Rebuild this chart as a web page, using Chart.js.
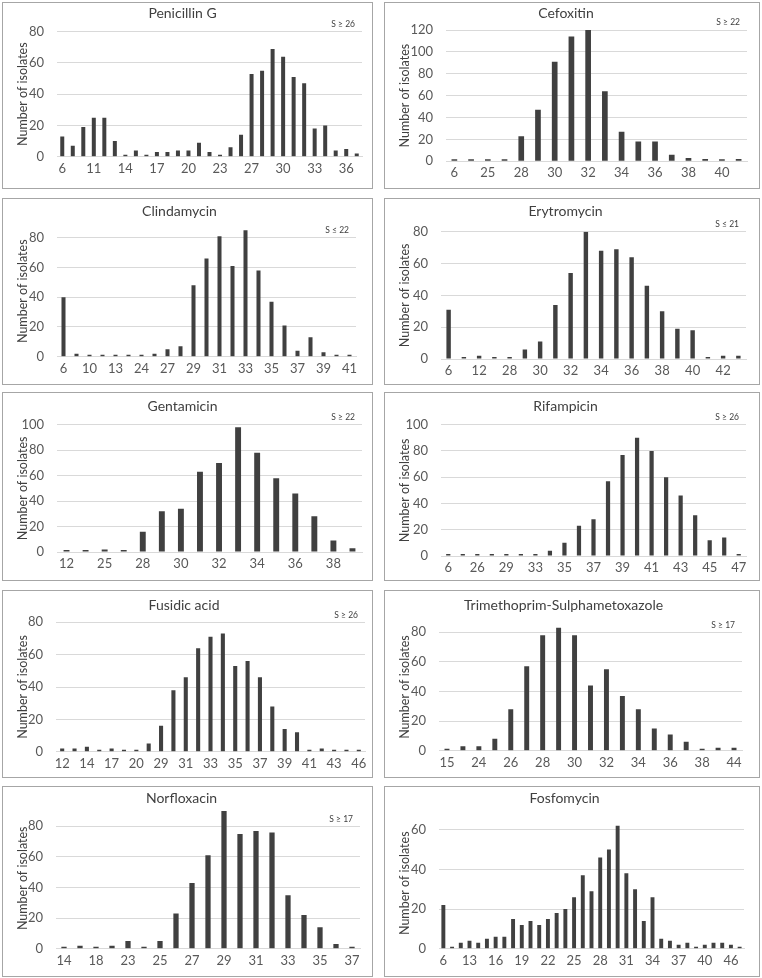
<!DOCTYPE html>
<html>
<head>
<meta charset="utf-8">
<script src="https://cdn.jsdelivr.net/npm/chart.js@4.4.1/dist/chart.umd.min.js"></script>
<style>
  body { margin: 0; background: #fff; width: 762px; height: 978px; position: relative; font-family: Lato, sans-serif; }
  .panel { position: absolute; border: 1px solid #a6a6a6; box-sizing: border-box; background: #fff; }
  .panel canvas { display: block; }
</style>
</head>
<body>
<script>
// zone diameters (mm) and isolate counts
const penicillinLabels = ['6','9','10','11','12','13','14','15','16','17','18','19','20','21','22','23','25','26','27','28','29','30','31','32','33','34','35','36','37'];
const penicillinCounts = [13, 7, 19, 25, 25, 10, 1, 4, 1, 3, 3, 4, 4, 9, 3, 1, 6, 14, 53, 55, 69, 64, 51, 47, 18, 20, 4, 5, 2];

const cefoxitinLabels = ['6','22','25','27','28','29','30','31','32','33','34','35','36','37','38','39','40','41'];
const cefoxitinCounts = [1, 1, 1, 1, 23, 47, 91, 114, 120, 64, 27, 18, 18, 6, 3, 2, 1, 2];

const clindamycinLabels = ['6','9','10','12','13','20','24','26','27','28','29','30','31','32','33','34','35','36','37','38','39','40','41'];
const clindamycinCounts = [40, 2, 1, 1, 1, 1, 1, 2, 5, 7, 48, 66, 81, 61, 85, 58, 37, 21, 4, 13, 3, 1, 1];

const erytromycinLabels = ['6','10','12','20','28','29','30','31','32','33','34','35','36','37','38','39','40','41','42','43'];
const erytromycinCounts = [31, 1, 2, 1, 1, 6, 11, 34, 54, 80, 68, 69, 64, 46, 30, 19, 18, 1, 2, 2];

const gentamicinLabels = ['12','22','25','27','28','29','30','31','32','33','34','35','36','37','38','39'];
const gentamicinCounts = [1, 1, 2, 1, 16, 32, 34, 63, 70, 98, 78, 58, 46, 28, 9, 3];

const rifampicinLabels = ['6','22','26','28','29','31','33','34','35','36','37','38','39','40','41','42','43','44','45','46','47'];
const rifampicinCounts = [1, 1, 1, 1, 1, 1, 1, 4, 10, 23, 28, 57, 77, 90, 80, 60, 46, 31, 12, 14, 1];

const fusidicLabels = ['12','13','14','15','17','18','20','26','29','30','31','32','33','34','35','36','37','38','39','40','41','42','43','44','46'];
const fusidicCounts = [2, 2, 3, 1, 2, 1, 1, 5, 16, 38, 46, 64, 71, 73, 53, 56, 46, 28, 14, 12, 1, 2, 1, 1, 1];

const sxtLabels = ['15','20','24','25','26','27','28','29','30','31','32','33','34','35','36','37','38','40','44'];
const sxtCounts = [1, 3, 3, 8, 28, 57, 78, 83, 78, 44, 55, 37, 28, 15, 11, 6, 1, 2, 2];

const norfloxacinLabels = ['14','16','18','21','23','24','25','26','27','28','29','30','31','32','33','34','35','36','37'];
const norfloxacinCounts = [1, 2, 1, 2, 5, 1, 5, 23, 43, 61, 90, 75, 77, 76, 35, 22, 14, 3, 1];

const fosfomycinLabels = ['6','10','12','13','14','15','16','17','18','19','20','21','22','23','24','25','26','27','28','29','30','31','32','33','34','35','36','37','38','39','40','42','44','46','47'];
const fosfomycinCounts = [22, 1, 3, 4, 3, 5, 6, 6, 15, 12, 14, 12, 15, 18, 20, 26, 37, 29, 46, 50, 62, 38, 30, 14, 26, 5, 4, 2, 3, 1, 2, 3, 3, 2, 1];

const titles = ['Penicillin G', 'Cefoxitin', 'Clindamycin', 'Erytromycin', 'Gentamicin',
                'Rifampicin', 'Fusidic acid', 'Trimethoprim-Sulphametoxazole', 'Norfloxacin', 'Fosfomycin'];
const breakpoints = ['S ≥ 26', 'S ≥ 22', 'S ≤ 22', 'S ≤ 21', 'S ≥ 22', 'S ≥ 26', 'S ≥ 26', 'S ≥ 17', 'S ≥ 17', ''];
const yMax = [80, 120, 88, 80, 100, 100, 80, 86, 92, 66];
const labelEvery = [3, 2, 2, 2, 2, 2, 2, 2, 2, 3];

const allLabels = [penicillinLabels, cefoxitinLabels, clindamycinLabels, erytromycinLabels, gentamicinLabels,
                   rifampicinLabels, fusidicLabels, sxtLabels, norfloxacinLabels, fosfomycinLabels];
const allCounts = [penicillinCounts, cefoxitinCounts, clindamycinCounts, erytromycinCounts, gentamicinCounts,
                   rifampicinCounts, fusidicCounts, sxtCounts, norfloxacinCounts, fosfomycinCounts];

// ---- layout (page pixels) ----
// panel boxes: [left, width] per column and [top, height] per row
const colX = [[2, 371], [384, 376]];
const rowY = [[2, 187], [198, 187], [392, 189], [590, 188], [786, 191]];
const titleCenterY = [13, 211.5, 406, 605, 798.5];
// plot area per panel: [left, right, y of top labelled gridline, y of zero line]
const plotBox = [
    [57, 362, 31.7, 156.7], [446, 747, 30, 161.3],
    [57, 356, 237.7, 356.7], [441, 746, 231.7, 359],
    [57, 362, 424.7, 552], [441, 746, 424.7, 556],
    [56, 365, 622.3, 751.7], [439, 742, 632.3, 750.7],
    [56, 360, 826.3, 948.7], [439, 744, 829.7, 948.7]
];
const barWidthShare = [0.38, 0.34, 0.31, 0.29, 0.31, 0.29, 0.33, 0.31, 0.33, 0.45];

const textGrey = '#595959';
const barColor = '#404040';
const gridColor = '#d9d9d9';
const titleSize = 14;
const xAxisHeight = 24;

// small "S >= xx" note just above the top labelled gridline
const notePlugin = {
    id: 'note',
    afterDraw(chart, args, opts) {
        if (!opts.text) return;
        const { ctx, chartArea, scales: { y } } = chart;
        const top = y.ticks[y.ticks.length - 1].value;
        ctx.save();
        ctx.font = '8.5px Lato';
        ctx.fillStyle = '#404040';
        ctx.textAlign = 'right';
        ctx.textBaseline = 'bottom';
        ctx.fillText(opts.text, chartArea.right - 7, y.getPixelForValue(top) - 3);
        ctx.restore();
    }
};

function makePanel(i) {
    const [left, width] = colX[i % 2];
    const row = Math.floor(i / 2);
    const [top, height] = rowY[row];
    const box = document.createElement('div');
    box.className = 'panel';
    Object.assign(box.style, { left: left + 'px', top: top + 'px', width: width + 'px', height: height + 'px' });
    const cw = width - 2, ch = height - 2;
    const cx = left + 1, cy = top + 1;
    const cv = document.createElement('canvas');
    cv.width = cw;
    cv.height = ch;
    cv.style.width = cw + 'px';
    cv.style.height = ch + 'px';
    box.appendChild(cv);
    document.body.appendChild(box);

    const every = labelEvery[i];
    const max = yMax[i];
    const gridTop = Math.floor(max / 20) * 20;
    const [pl, pr, gy, zy] = plotBox[i];
    const plotTop = zy - (zy - gy) * max / gridTop;
    const lh = titleSize * 1.2;
    const tTop = titleCenterY[row] - cy - lh / 2;
    const tBottom = Math.max(0, plotTop - cy - tTop - lh);
    const padBottom = Math.max(0, cy + ch - xAxisHeight - zy);
    const padRight = cx + cw - pr;
    const yWidth = pl - cx;

    new Chart(cv.getContext('2d'), {
        type: 'bar',
        data: {
            labels: allLabels[i],
            datasets: [{
                data: allCounts[i],
                backgroundColor: barColor,
                borderWidth: 0,
                minBarLength: 2,
                barPercentage: barWidthShare[i],
                categoryPercentage: 1
            }]
        },
        options: {
            responsive: false,
            animation: false,
            layout: { padding: { left: 0, right: padRight, top: 0, bottom: padBottom } },
            plugins: {
                legend: { display: false },
                tooltip: { enabled: false },
                note: { text: breakpoints[i] },
                title: {
                    display: true,
                    text: titles[i],
                    color: '#404040',
                    font: { family: 'Lato', size: titleSize, weight: 'normal' },
                    padding: { top: tTop, bottom: tBottom }
                }
            },
            scales: {
                x: {
                    afterFit(scale) { scale.height = xAxisHeight; },
                    grid: { display: false, drawTicks: false },
                    border: { color: gridColor },
                    ticks: {
                        autoSkip: false,
                        maxRotation: 0,
                        color: textGrey,
                        font: { family: 'Lato', size: 13 },
                        padding: 4,
                        callback(v, idx) { return idx % every === 0 ? this.getLabelForValue(v) : ''; }
                    }
                },
                y: {
                    min: 0,
                    max: max,
                    afterBuildTicks(axis) {
                        const t = [];
                        for (let v = 0; v <= max; v += 20) t.push({ value: v });
                        axis.ticks = t;
                    },
                    afterFit(scale) { scale.width = yWidth; },
                    grid: { color: gridColor, drawTicks: false },
                    border: { display: false },
                    ticks: {
                        color: textGrey,
                        font: { family: 'Lato', size: 13 },
                        padding: 13
                    },
                    title: {
                        display: true,
                        text: 'Number of isolates',
                        color: '#404040',
                        font: { family: 'Lato', size: 12.5 },
                        padding: { top: 12, bottom: 0 }
                    }
                }
            }
        },
        plugins: [notePlugin]
    });
}

for (let i = 0; i < titles.length; i++) makePanel(i);
</script>
</body>
</html>
